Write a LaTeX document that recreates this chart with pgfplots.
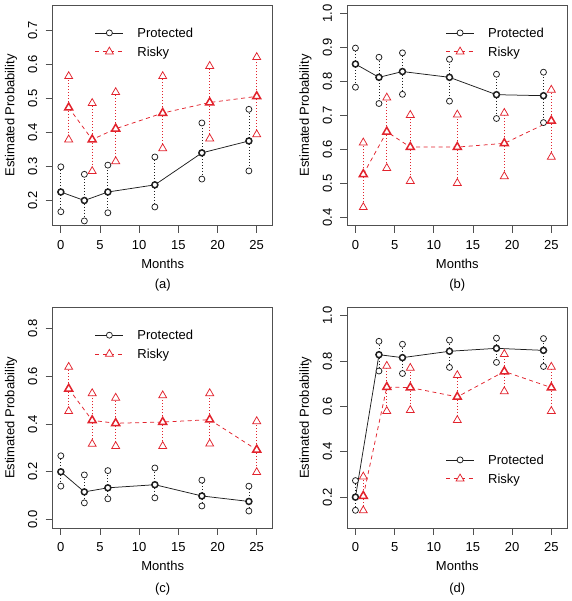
\documentclass[border=0pt]{standalone}
\usepackage{pgfplots}
\pgfplotsset{compat=1.18}
\usepackage{pgfplotstable}
\usepackage{fontspec}
\setmainfont{Liberation Sans}
\definecolor{rred}{RGB}{226,35,45}
\definecolor{pblk}{RGB}{30,30,30}
\definecolor{frm}{RGB}{80,80,80}

% panel (a)
\pgfplotstableread{
x y lo hi
0 0.225 0.167 0.299
3 0.200 0.140 0.277
6 0.225 0.164 0.304
12 0.246 0.181 0.328
18 0.340 0.263 0.428
24 0.375 0.287 0.468
}\aP
\pgfplotstableread{
x y lo hi
1 0.473 0.379 0.565
4 0.379 0.286 0.486
7 0.411 0.315 0.518
13 0.457 0.353 0.565
19 0.488 0.382 0.595
25 0.506 0.394 0.621
}\aR
% panel (b)
\pgfplotstableread{
x y lo hi
0 0.851 0.783 0.898
3 0.812 0.735 0.871
6 0.829 0.762 0.884
12 0.812 0.742 0.865
18 0.761 0.691 0.821
24 0.758 0.679 0.827
}\bP
\pgfplotstableread{
x y lo hi
1 0.527 0.430 0.620
4 0.652 0.545 0.752
7 0.607 0.507 0.701
13 0.607 0.501 0.702
19 0.618 0.521 0.707
25 0.684 0.578 0.775
}\bR
% panel (c)
\pgfplotstableread{
x y lo hi
0 0.200 0.140 0.267
3 0.116 0.070 0.187
6 0.133 0.087 0.205
12 0.146 0.091 0.216
18 0.099 0.057 0.165
24 0.076 0.036 0.140
}\cP
\pgfplotstableread{
x y lo hi
1 0.547 0.453 0.638
4 0.415 0.316 0.528
7 0.403 0.307 0.509
13 0.408 0.307 0.519
19 0.418 0.317 0.528
25 0.292 0.198 0.411
}\cR
% panel (d)
\pgfplotstableread{
x y lo hi
0 0.200 0.142 0.273
3 0.828 0.756 0.887
6 0.815 0.745 0.874
12 0.843 0.772 0.892
18 0.856 0.794 0.901
24 0.847 0.776 0.899
}\dP
\pgfplotstableread{
x y lo hi
1 0.205 0.141 0.290
4 0.685 0.579 0.778
7 0.683 0.583 0.769
13 0.642 0.539 0.737
19 0.754 0.666 0.830
25 0.683 0.579 0.774
}\dR

\tikzset{
  pdot/.style={draw=pblk, line width=0.75pt, dash pattern=on 0.9pt off 2.1pt},
  rdot/.style={draw=rred, line width=0.75pt, dash pattern=on 0.9pt off 2.1pt},
  pline/.style={draw=pblk, line width=0.75pt, solid},
  rline/.style={draw=rred, line width=0.75pt, dash pattern=on 4pt off 3.5pt},
}

\newcommand{\fs}{\fontsize{13}{15.6}\selectfont}

\pgfplotsset{
  panel/.style={
    anchor=south west,
    scale only axis, width=220pt, height=220.5pt,
    xmin=-1.04, xmax=27.04,
    xtick={0,5,10,15,20,25},
    tick align=outside, major tick length=7pt,
    xtick pos=bottom, ytick pos=left,
    axis line style={draw=frm, line width=0.75pt},
    tick style={draw=frm, line width=0.75pt},
    every axis/.append style={font=\fs},
    ticklabel style={font=\fs},
    /pgf/number format/assume math mode=true,
    yticklabel style={rotate=90, anchor=south, inner sep=0pt,
      /pgf/number format/fixed,
      /pgf/number format/fixed zerofill,
      /pgf/number format/precision=1},
    xticklabel style={anchor=north, inner sep=0pt},
    xticklabel shift=7.7pt, yticklabel shift=8.2pt,
    xlabel={Months}, ylabel={Estimated Probability},
    xlabel style={font=\fs, at={(axis description cs:0.5,-0.1736)}, anchor=center},
    ylabel style={font=\fs, at={(axis description cs:-0.1895,0.5)}, anchor=center},
    legend cell align=left,
    legend style={draw=none, fill=none, inner sep=0pt, outer sep=0pt, row sep=9.3pt,
      font=\fs,
      nodes={inner sep=0pt, text height=9.5pt, text depth=0pt},
      /tikz/every odd column/.append style={column sep=13.7pt}},
    legend image code/.code={
      \draw[mark repeat=2,mark phase=2,##1] plot coordinates {(0pt,0pt) (14pt,0pt) (28pt,0pt)};
    },
  },
  pmark/.style={mark=*, mark size=3pt},
  rmark/.style={mark=triangle*, mark size=4.6pt},
}

% #1 table, #2 dot style, #3 line style, #4 mark style, #5 color
\newcommand{\series}[5]{%
  \addplot[forget plot, draw=none, mark=none,
    error bars/.cd, y dir=both, y explicit, error mark=none, error bar style={#2}]
    table[x=x, y=y, y error plus expr=\thisrow{hi}-\thisrow{y},
          y error minus expr=\thisrow{y}-\thisrow{lo}] {#1};
  \addplot[forget plot, #3, mark=none] table[x=x, y=y] {#1};
  \addplot[forget plot, only marks, #4, mark options={solid, draw=#5, fill=white, line width=0.75pt}]
    table[x=x, y=lo] {#1};
  \addplot[forget plot, only marks, #4, mark options={solid, draw=#5, fill=white, line width=0.75pt}]
    table[x=x, y=hi] {#1};
  \addplot[forget plot, only marks, #4, mark options={solid, draw=#5, fill=white, line width=1.5pt}]
    table[x=x, y=y] {#1};
}
\newcommand{\legendentries}{%
  \addlegendimage{pline, pmark, mark options={solid, draw=pblk, fill=white, line width=0.75pt}}
  \addlegendentry{Protected}
  \addlegendimage{rline, rmark, mark options={solid, draw=rred, fill=white, line width=0.75pt}}
  \addlegendentry{Risky}
}

\begin{document}
\begin{tikzpicture}
\path[use as bounding box] (0pt,0pt) rectangle (571pt,601pt);

% (a)
\begin{axis}[panel, at={(52.7pt,375.3pt)},
  ymin=0.126, ymax=0.774, ytick={0.2,0.3,0.4,0.5,0.6,0.7},
  legend style={at={(axis description cs:0.1923,0.8959)}, anchor=north west},
  extra description/.code={\node[font=\fs] at (axis description cs:0.5,-0.2689) {(a)};}]
\legendentries
\series{\aP}{pdot}{pline}{pmark}{pblk}
\series{\aR}{rdot}{rline}{rmark}{rred}
\end{axis}

% (b)
\begin{axis}[panel, at={(347.3pt,375.3pt)},
  ymin=0.376, ymax=1.024, ytick={0.4,0.5,0.6,0.7,0.8,0.9,1.0},
  legend style={at={(axis description cs:0.4473,0.8959)}, anchor=north west},
  extra description/.code={\node[font=\fs] at (axis description cs:0.5,-0.2689) {(b)};}]
\legendentries
\series{\bP}{pdot}{pline}{pmark}{pblk}
\series{\bR}{rdot}{rline}{rmark}{rred}
\end{axis}

% (c)
\begin{axis}[panel, at={(52.7pt,73pt)},
  ymin=-0.035, ymax=0.887, ytick={0,0.2,0.4,0.6,0.8},
  legend style={at={(axis description cs:0.1923,0.8959)}, anchor=north west},
  extra description/.code={\node[font=\fs] at (axis description cs:0.5,-0.279) {(c)};}]
\legendentries
\series{\cP}{pdot}{pline}{pmark}{pblk}
\series{\cR}{rdot}{rline}{rmark}{rred}
\end{axis}

% (d)
\begin{axis}[panel, at={(347.3pt,73pt)},
  ymin=0.064, ymax=1.036, ytick={0.2,0.4,0.6,0.8,1.0},
  legend style={at={(axis description cs:0.4473,0.3304)}, anchor=north west},
  extra description/.code={\node[font=\fs] at (axis description cs:0.5,-0.279) {(d)};}]
\legendentries
\series{\dP}{pdot}{pline}{pmark}{pblk}
\series{\dR}{rdot}{rline}{rmark}{rred}
\end{axis}
\end{tikzpicture}
\end{document}
